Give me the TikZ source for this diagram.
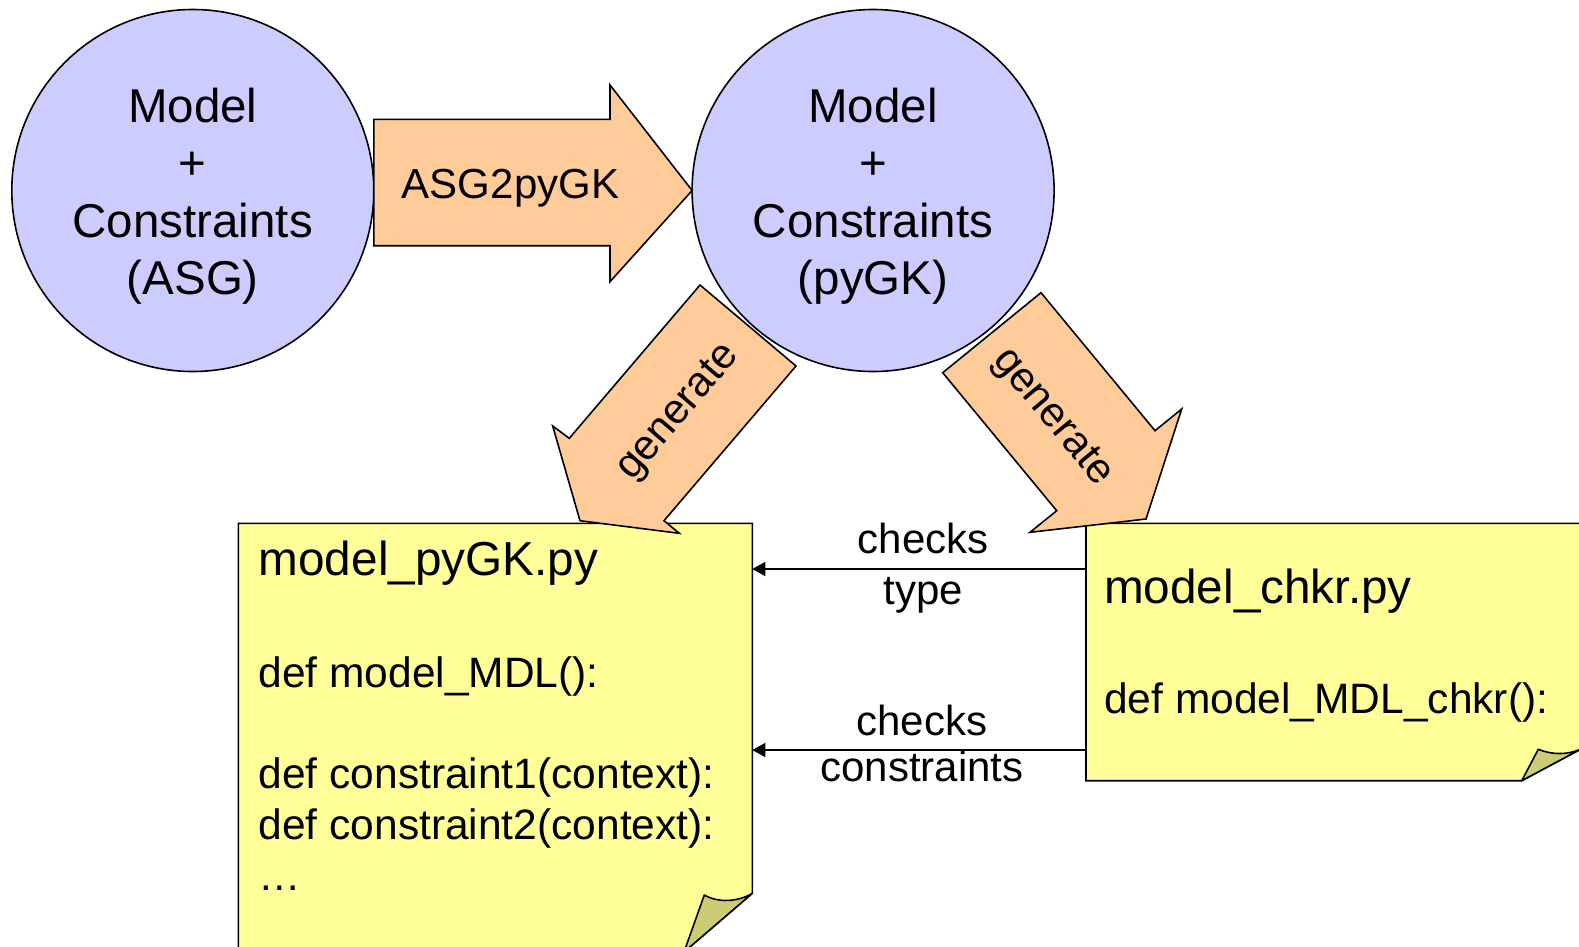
\documentclass[tikz,border=0pt]{standalone}
\usepackage{fontspec}
\setmainfont{Liberation Sans}
\usetikzlibrary{arrows.meta}

\definecolor{bubble}{HTML}{CCCCFF}
\definecolor{blockarrow}{HTML}{FFCC99}
\definecolor{notepaper}{HTML}{FFFF99}
\definecolor{notefold}{HTML}{CCCC77}

\newcommand\circfont{\fontsize{47.5}{57.3}\selectfont}
\newcommand\titlefont{\fontsize{47.7}{57}\selectfont}
\newcommand\codefont{\fontsize{42.5}{50}\selectfont}
\newcommand\labelfont{\fontsize{42}{50}\selectfont}

\begin{document}
\begin{tikzpicture}[x=1pt,y=-1pt,
  outline/.style={draw=black, line width=1.6pt, line join=miter, miter limit=10},
  model/.style={circle, outline, fill=bubble, minimum size=362pt, inner sep=0pt, outer sep=0pt},
  modeltext/.style={align=center, font=\circfont, inner sep=0pt},
  bigarrow/.style={outline, fill=blockarrow},
  note/.style={outline, fill=notepaper},
  fold/.style={outline, fill=notefold, line join=round},
  notebox/.style={inner sep=0pt, outer sep=0pt, anchor=north west},
  titleline/.style={font=\titlefont, anchor=base west, inner sep=0pt},
  codeline/.style={font=\codefont, anchor=base west, inner sep=0pt},
  arrowlabel/.style={font=\labelfont, inner sep=0pt},
  checkline/.style={draw=black, line width=1.6pt, -{Triangle[length=13pt, width=14pt]}},
  checklabel/.style={font=\labelfont, anchor=base, inner sep=0pt}
]
\useasboundingbox (0,0) rectangle (1579,946);

% the two model bubbles
\node[model] (asg)  at (192.8,190.5) {};
\node[model] (pygk) at (873.1,190.5) {};
\node[modeltext] at (192.8,196.3) {Model\\+\\Constraints\\(ASG)};
\node[modeltext] at (873.1,196.3) {Model\\+\\Constraints\\(pyGK)};

% generated files (sticky notes); the first one runs past the lower edge
\node[notebox, minimum width=514pt, minimum height=428.7pt] (pyfile) at (238.3,523.3) {};
\node[notebox, minimum width=495pt, minimum height=257.4pt] (chkfile) at (1086,523.3) {};

\path[note] (pyfile.north west) -- (pyfile.north east) -- (752.3,893.3)
  -- (684,952) -- (pyfile.south west) -- cycle;
\path[fold] (704.3,895) .. controls (718,903) and (738,902) .. (752.3,893.3)
  -- (684,952) -- cycle;

\path[note] (chkfile.north west) -- (chkfile.north east) -- (1581,749)
  -- (1521.7,780.7) -- (chkfile.south west) -- cycle;
\path[fold] (1538.3,749.3) .. controls (1552,755) and (1568,755) .. (1581,749)
  -- (1521.7,780.7) -- cycle;

% file contents
\node[titleline] at (258.5,575)   {model\_pyGK.py};
\node[codeline]  at (258.5,687)   {def model\_MDL():};
\node[codeline]  at (258.5,788.5) {def constraint1(context):};
\node[codeline]  at (258.5,839)   {def constraint2(context):};
\node[codeline]  at (258.5,890)   {…};

\node[titleline] at (1104,603.3) {model\_chkr.py};
\node[codeline]  at (1104,713.3) {def model\_MDL\_chkr():};

% transformation arrow between the bubbles
\path[bigarrow] (asg.east |- 0,119.3) -- (610,119.3) -- (610,85) -- (pygk.west)
  -- (610,281.7) -- (610,245.7) -- (asg.east |- 0,245.7) -- cycle;
\node[arrowlabel, anchor=base] at (510.5,198.3) {ASG2pyGK};

% generation arrows into the files
\path[bigarrow] (700,285) -- (796,366) -- (664,520.7) -- (679.3,533.3)
  -- (580,520.7) -- (552.7,426) -- (569.3,438.3) -- cycle;
\node[arrowlabel, rotate=49.4] at (679,413) {generate};

\path[bigarrow] (1041,292.7) -- (1155,430.7) -- (1181.7,409) -- (1146,519)
  -- (1030,532.3) -- (1056.7,510.7) -- (942.7,372.7) -- cycle;
\node[arrowlabel, rotate=-50.4] at (1052,418) {generate};

% checker relations
\draw[checkline] (chkfile.west |- 0,569) -- (pyfile.east |- 0,569)
  node[checklabel, midway, yshift=15.7pt, xshift=4pt] {checks}
  node[checklabel, midway, yshift=-35.3pt, xshift=4.5pt] {type};
\draw[checkline] (chkfile.west |- 0,750) -- (pyfile.east |- 0,750)
  node[checklabel, midway, yshift=15pt, xshift=2.7pt] {checks}
  node[checklabel, midway, yshift=-31.7pt, xshift=2.7pt] {constraints};
\end{tikzpicture}
\end{document}
